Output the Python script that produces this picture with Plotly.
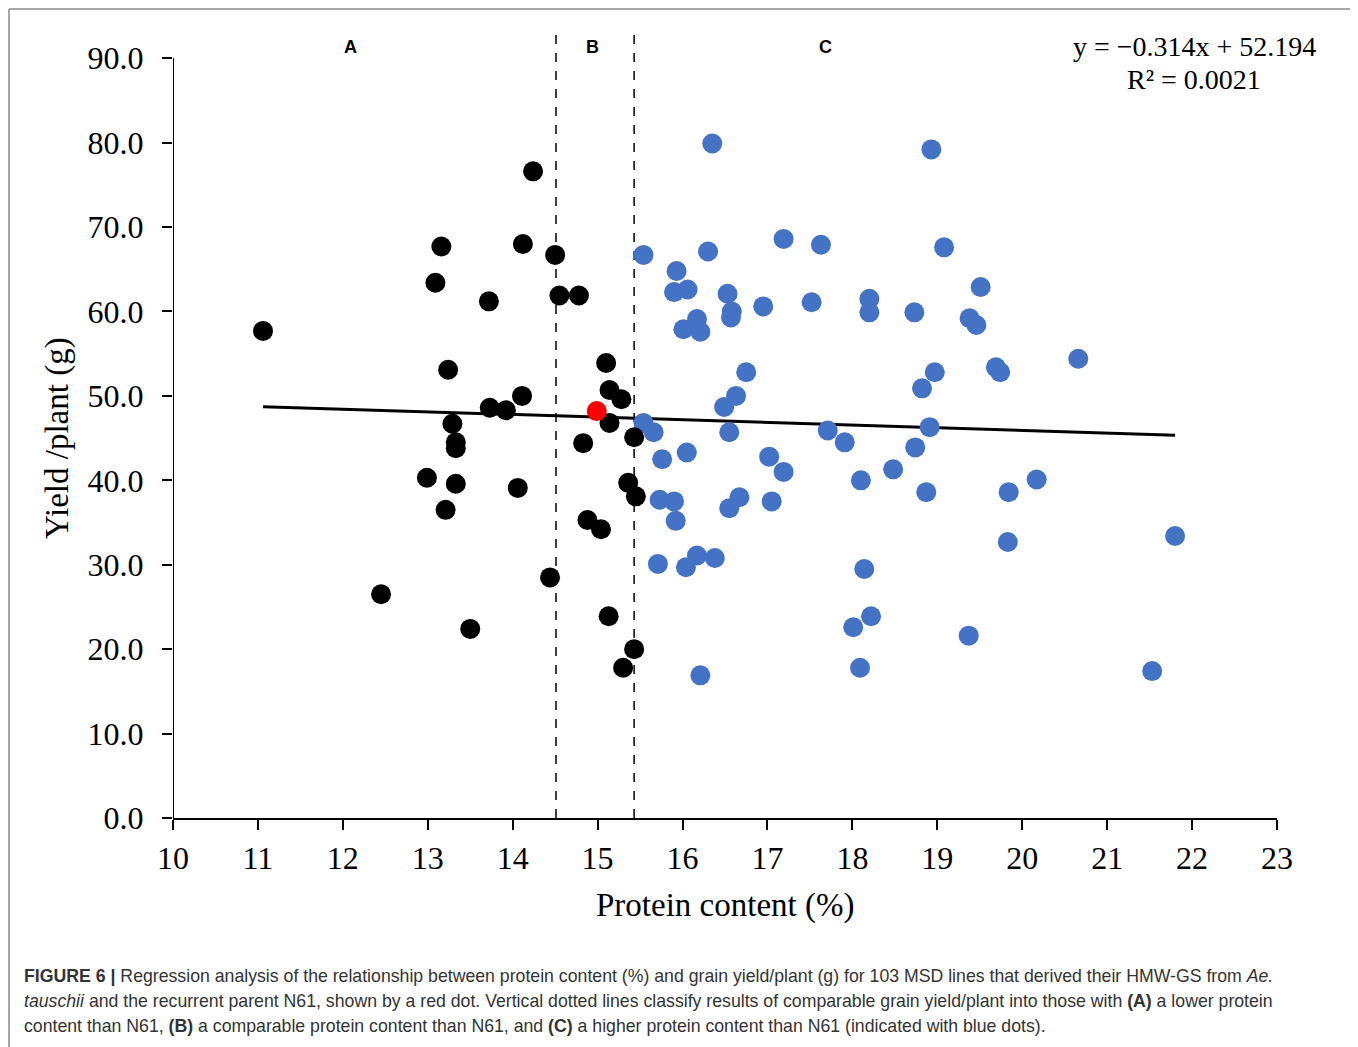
import plotly.graph_objects as go

# ---- data ----
black_x = [11.06, 12.45, 12.99, 13.16, 13.09, 13.24, 13.29, 13.33, 13.33, 13.33, 13.21, 13.50,
           13.72, 13.73, 13.92, 14.11, 14.06, 14.12, 14.24, 14.44, 14.50, 14.55, 14.78, 14.83,
           14.88, 15.04, 15.10, 15.14, 15.14, 15.13, 15.28, 15.36, 15.45, 15.43, 15.43, 15.30]
black_y = [57.7, 26.5, 40.3, 67.7, 63.4, 53.1, 46.7, 44.5, 43.8, 39.6, 36.5, 22.4,
           61.2, 48.6, 48.3, 50.0, 39.1, 68.0, 76.6, 28.5, 66.7, 61.9, 61.9, 44.4,
           35.3, 34.2, 53.9, 50.7, 46.8, 23.9, 49.6, 39.7, 38.1, 45.1, 20.0, 17.8]

red_x = [14.99]
red_y = [48.2]

blue_x = [16.35, 18.93, 15.54, 16.30, 17.19, 17.63, 19.08, 15.93, 15.90, 16.06, 16.53, 16.58,
          16.57, 16.95, 17.52, 18.20, 18.20, 18.73, 16.01, 16.17, 16.21, 16.75, 16.63, 16.49,
          18.97, 18.82, 18.91, 18.74, 15.54, 15.66, 16.55, 17.71, 17.91,
          15.76, 16.05, 17.02, 17.19, 18.10, 18.48, 18.87, 15.73, 15.90, 15.92, 16.67, 16.55,
          17.05, 15.71, 16.04, 16.17, 16.38, 18.14, 18.22, 18.01, 18.09, 16.21,
          19.51, 19.38, 19.46, 20.66, 19.69, 19.74,
          20.17, 19.84, 19.83, 21.80, 19.37, 21.53]
blue_y = [79.9, 79.2, 66.7, 67.1, 68.6, 67.9, 67.6, 64.8, 62.3, 62.6, 62.1, 60.0,
          59.3, 60.6, 61.1, 61.5, 59.9, 59.9, 57.9, 59.1, 57.6, 52.8, 50.0, 48.7,
          52.8, 50.9, 46.3, 43.9, 46.8, 45.7, 45.7, 45.9, 44.5,
          42.5, 43.3, 42.8, 41.0, 40.0, 41.3, 38.6, 37.7, 37.5, 35.2, 38.0, 36.7,
          37.5, 30.1, 29.7, 31.1, 30.8, 29.5, 23.9, 22.6, 17.8, 16.9,
          62.9, 59.2, 58.4, 54.4, 53.4, 52.8,
          40.1, 38.6, 32.7, 33.4, 21.6, 17.4]

trend_x = [11.06, 21.80]
trend_y = [48.72, 45.35]

divider_x = [14.51, 15.43]
group_labels = ["A", "B", "C"]
group_label_x = [12.09, 14.94, 17.68]

x_ticks = list(range(10, 24))
y_ticks = [0, 10, 20, 30, 40, 50, 60, 70, 80, 90]

X_RANGE = [10, 23]
Y_RANGE = [0, 93.7]

SERIF = "Liberation Serif, Times New Roman, serif"
SANS = "Liberation Sans, Arial, sans-serif"

# plot area in page pixels (the page body adds an 8px margin)
PX_L, PX_R, PX_T, PX_B = 173, 1277, 27, 818
PW, PH = PX_R - PX_L, PX_B - PX_T


def px(x):
    return (x - PX_L) / PW


def py(y):
    return (PX_B - y) / PH


fig = go.Figure()

fig.add_trace(go.Scatter(x=trend_x, y=trend_y, mode="lines",
                         line=dict(color="black", width=3), showlegend=False,
                         hoverinfo="skip"))
fig.add_trace(go.Scatter(x=blue_x, y=blue_y, mode="markers",
                         marker=dict(color="#4472C4", size=20), showlegend=False))
fig.add_trace(go.Scatter(x=black_x, y=black_y, mode="markers",
                         marker=dict(color="black", size=20), showlegend=False))
fig.add_trace(go.Scatter(x=red_x, y=red_y, mode="markers",
                         marker=dict(color="#FF0000", size=20), showlegend=False))

# dashed dividers
for xv in divider_x:
    fig.add_shape(type="line", xref="x", yref="y", x0=xv, x1=xv, y0=0, y1=Y_RANGE[1],
                  line=dict(color="black", width=1.5, dash="dash"), layer="below")

# y-axis line (only up to 90)
fig.add_shape(type="line", xref="x", yref="y", x0=10, x1=10, y0=0, y1=90,
              line=dict(color="black", width=2))

# outer frame (left, top, right edges; bottom lies below the visible area)
frame = dict(color="#8a8a8a", width=1.5)
fig.add_shape(type="line", xref="paper", yref="paper", x0=px(9), x1=px(9),
              y0=py(1050), y1=py(9), line=frame)
fig.add_shape(type="line", xref="paper", yref="paper", x0=px(9), x1=px(1353),
              y0=py(9), y1=py(9), line=frame)
fig.add_shape(type="line", xref="paper", yref="paper", x0=px(1353), x1=px(1353),
              y0=py(1050), y1=py(9), line=frame)

for lab, lx in zip(group_labels, group_label_x):
    fig.add_annotation(x=lx, y=91.3, xref="x", yref="y", text="<b>%s</b>" % lab,
                       showarrow=False, xanchor="center", yanchor="middle",
                       font=dict(family=SANS, size=18, color="black"))

fig.add_annotation(x=px(1194), y=py(47), xref="paper", yref="paper",
                   text="y = \u22120.314x + 52.194", showarrow=False,
                   xanchor="center", yanchor="middle",
                   font=dict(family=SERIF, size=28, color="black"))
fig.add_annotation(x=px(1194), y=py(79), xref="paper", yref="paper",
                   text="R\u00b2 = 0.0021", showarrow=False,
                   xanchor="center", yanchor="middle",
                   font=dict(family=SERIF, size=28, color="black"))

# axis titles
fig.add_annotation(x=px(725), y=py(906), xref="paper", yref="paper",
                   text="Protein content (%)", showarrow=False,
                   xanchor="center", yanchor="middle",
                   font=dict(family=SERIF, size=33, color="black"))
fig.add_annotation(x=px(57), y=py(438), xref="paper", yref="paper",
                   text="Yield /plant (g)", textangle=-90, showarrow=False,
                   xanchor="center", yanchor="middle",
                   font=dict(family=SERIF, size=33, color="black"))

# caption
cap_lines = [
    "<b>FIGURE 6 |</b> Regression analysis of the relationship between protein content (%) and grain yield/plant (g) for 103 MSD lines that derived their HMW-GS from <i>Ae.</i>",
    "<i>tauschii</i> and the recurrent parent N61, shown by a red dot. Vertical dotted lines classify results of comparable grain yield/plant into those with <b>(A)</b> a lower protein",
    "content than N61, <b>(B)</b> a comparable protein content than N61, and <b>(C)</b> a higher protein content than N61 (indicated with blue dots).",
]
cap_y = [976, 1001, 1026]
for t, cy in zip(cap_lines, cap_y):
    fig.add_annotation(x=px(22), y=py(cy), xref="paper", yref="paper",
                       text=t, showarrow=False, xanchor="left", yanchor="middle", align="left",
                       font=dict(family=SANS, size=17.7, color="#333333"))

fig.update_layout(
    width=1350, height=1039,
    margin=dict(l=PX_L - 8, r=1350 - (PX_R - 8), t=PX_T - 8, b=1039 - (PX_B - 8)),
    paper_bgcolor="white", plot_bgcolor="white",
    showlegend=False,
    xaxis=dict(range=X_RANGE, tickvals=x_ticks, ticktext=[str(v) for v in x_ticks],
               showgrid=False, zeroline=False, showline=True, linecolor="black", linewidth=2,
               ticks="outside", ticklen=10, tickwidth=2, tickcolor="black",
               tickfont=dict(family=SERIF, size=32, color="black"), ticklabelstandoff=1),
    yaxis=dict(range=Y_RANGE, tickvals=y_ticks, ticktext=["%.1f" % v for v in y_ticks],
               showgrid=False, zeroline=False, showline=False,
               ticks="outside", ticklen=10, tickwidth=2, tickcolor="black",
               tickfont=dict(family=SERIF, size=32, color="black"), ticklabelstandoff=12),
)

fig.write_html("out.html")
